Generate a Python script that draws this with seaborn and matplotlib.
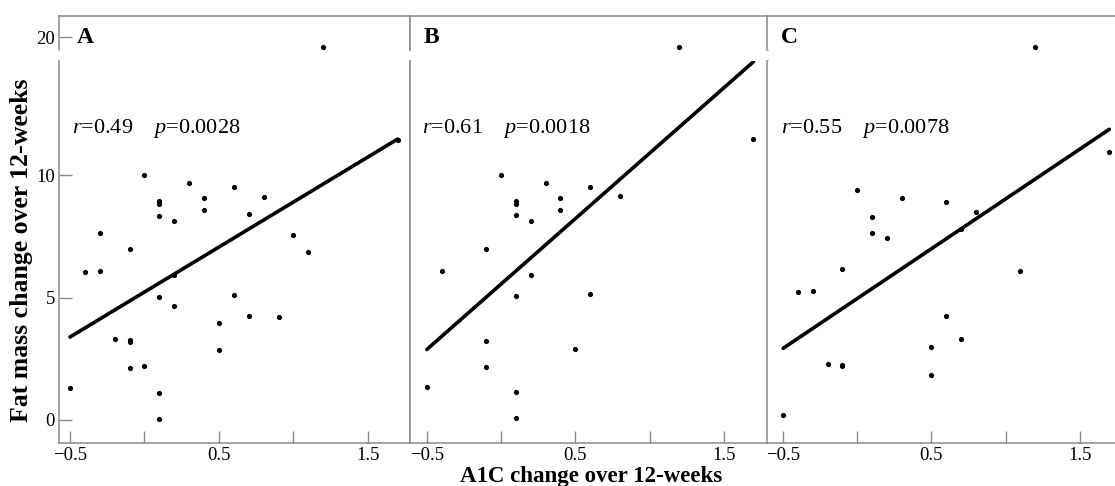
import matplotlib
matplotlib.use("Agg")
import matplotlib.pyplot as plt
import seaborn as sns
import pandas as pd

# ---------------- data ----------------
panels = ["A", "B", "C"]

A_x = [1.2, 1.7, 0.0, 0.3, 0.6, 0.1, 0.1, 0.4, 0.4, 0.8, 0.1, 0.2, 0.7, -0.3, 1.0,
       -0.1, 1.1, -0.4, -0.3, 0.2, 0.1, 0.2, 0.6, 0.7, 0.9, 0.5, -0.2, -0.1, -0.1,
       0.5, -0.1, 0.0, -0.5, 0.1, 0.1]
A_y = [19.6, 11.45, 10.0, 9.7, 9.51, 8.95, 8.83, 9.07, 8.57, 9.13, 8.32, 8.12, 8.43,
       7.63, 7.55, 7.0, 6.88, 6.06, 6.08, 5.93, 5.03, 4.66, 5.12, 4.25, 4.22, 3.95,
       3.3, 3.27, 3.2, 2.87, 2.14, 2.22, 1.31, 1.1, 0.04]

B_x = [1.2, 1.7, 0.0, 0.3, 0.6, 0.1, 0.1, 0.4, 0.4, 0.8, 0.1, 0.2, -0.1, -0.4, 0.2,
       0.1, 0.6, -0.1, 0.5, -0.1, -0.5, 0.1, 0.1]
B_y = [19.6, 11.47, 10.01, 9.7, 9.53, 8.96, 8.84, 9.08, 8.59, 9.17, 8.37, 8.15, 7.0,
       6.1, 5.94, 5.07, 5.16, 3.24, 2.9, 2.18, 1.36, 1.14, 0.09]

C_x = [1.2, 1.7, 0.0, 0.3, 0.6, 0.1, 0.8, 0.1, 0.2, 0.7, -0.1, 1.1, -0.4, -0.3, 0.6,
       0.7, 0.5, -0.2, -0.1, -0.1, 0.5, -0.5]
C_y = [19.6, 10.94, 9.4, 9.07, 8.9, 8.3, 8.5, 7.65, 7.44, 7.79, 6.16, 6.1, 5.24, 5.26,
       4.25, 3.31, 3.0, 2.3, 2.25, 2.22, 1.85, 0.19]

# fitted regression lines (end points)
fit_x = [-0.5, 1.7]
A_fit = [3.39, 11.48]
B_fit = [2.88, 14.64]
C_fit = [2.93, 11.88]

r_vals = ["0.49", "0.61", "0.55"]
p_vals = ["0.0028", "0.0018", "0.0078"]

x_ticks = [-0.5, 0.0, 0.5, 1.0, 1.5]
x_ticklabels = ["\u22120.5", "", "0.5", "", "1.5"]
y_ticks_low = [0, 5, 10]
y_ticks_high = [20]

xlabel = "A1C change over 12-weeks"
ylabel = "Fat mass change over 12-weeks"

# ---------------- styling ----------------
sns.set_style("white")
plt.rcParams["font.family"] = ["Liberation Serif", "DejaVu Serif"]
plt.rcParams["mathtext.fontset"] = "custom"
plt.rcParams["mathtext.rm"] = "Liberation Serif"
plt.rcParams["mathtext.it"] = "Liberation Serif:italic"
plt.rcParams["text.color"] = "black"
plt.rcParams["xtick.labelcolor"] = "black"
plt.rcParams["ytick.labelcolor"] = "black"

W, H = 1115, 486
fig = plt.figure(figsize=(W / 100, H / 100), dpi=100)

# pixel layout of the panels: (left, right) and x-limits
px_cols = [(59, 410), (410, 768), (767, 1115)]
xlims = [(-0.574, 1.783), (-0.613, 1.798), (-0.609, 1.738)]
low_px = (61, 443)
high_px = (16, 50)
ylim_low = (-0.94, 14.67)
ylim_high = (19.47, 20.86)

xs = [A_x, B_x, C_x]
ys = [A_y, B_y, C_y]
fits = [A_fit, B_fit, C_fit]
text_x = [-0.49, -0.534, -0.515]
letter_x = [-0.458, -0.518, -0.515]

grey = "#8a8a8a"

def rect(col, rowpx):
    l, r = col
    t, b = rowpx
    return [l / W, 1 - b / H, (r - l) / W, (b - t) / H]

for i in range(3):
    ax_lo = fig.add_axes(rect(px_cols[i], low_px))
    ax_hi = fig.add_axes(rect(px_cols[i], high_px))
    df = pd.DataFrame({"x": xs[i], "y": ys[i]})
    dfit = pd.DataFrame({"x": fit_x, "y": fits[i]})
    for ax in (ax_lo, ax_hi):
        sns.scatterplot(data=df, x="x", y="y", ax=ax, color="black", s=14,
                        linewidth=0, clip_on=True)
        sns.lineplot(data=dfit, x="x", y="y", ax=ax, color="black", lw=2.6)
        ax.set_xlim(*xlims[i])
        ax.set_xlabel("")
        ax.set_ylabel("")
        for sp in ax.spines.values():
            sp.set_color(grey)
            sp.set_linewidth(1.1)
        ax.spines["right"].set_visible(i < 2)
        ax.tick_params(direction="in", length=9, width=1, color=grey,
                       labelsize=13.5, labelcolor="black", pad=3,
                       bottom=True, left=True, top=False, right=False)
    ax_lo.set_ylim(*ylim_low)
    ax_hi.set_ylim(*ylim_high)
    ax_lo.spines["top"].set_visible(False)
    ax_hi.spines["bottom"].set_visible(False)
    ax_hi.set_xticks([])
    ax_lo.set_xticks(x_ticks)
    ax_lo.set_xticklabels(x_ticklabels)
    if i == 0:
        ax_lo.set_yticks(y_ticks_low)
        ax_hi.set_yticks(y_ticks_high)
    else:
        ax_lo.set_yticks([])
        ax_hi.set_yticks([])
    ax_hi.text(letter_x[i], 20.0, panels[i], fontsize=17, fontweight="bold",
               ha="left", va="center", color="black")
    ax_lo.text(text_x[i], 11.9, f"$r$={r_vals[i]}    $p$={p_vals[i]}",
               fontsize=16, ha="left", va="center", color="black")

fig.text(591 / W, 1 - 476 / H, xlabel, fontsize=16.5, fontweight="bold",
         ha="center", va="center", color="black")
fig.text(22 / W, 1 - 250 / H, ylabel, fontsize=18.5, fontweight="bold",
         ha="center", va="center", rotation=90, color="black")

fig.savefig("out.png", dpi=100)
